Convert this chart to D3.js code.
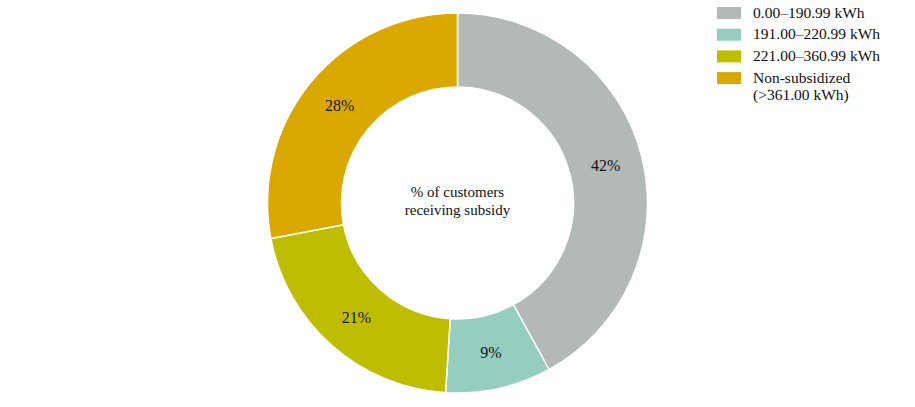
<!DOCTYPE html>
<html>
<head>
<meta charset="utf-8">
<script src="https://cdn.jsdelivr.net/npm/d3@7"></script>
<style>
  body { margin: 0; background: #fff; }
  text { font-family: "Liberation Serif", serif; fill: #111; }
</style>
</head>
<body>
<script>
var width = 915,
    height = 407;

// data
var categories = ["0.00–190.99 kWh", "191.00–220.99 kWh", "221.00–360.99 kWh", "Non-subsidized (>361.00 kWh)"];
var shares = [42, 9, 21, 28];
var colors = ["#b2b9b7", "#95cebf", "#bfbd00", "#dba800"];
var centerLabel = ["% of customers", "receiving subsidy"];

var svg = d3.select("body")
    .append("svg")
    .attr("width", width)
    .attr("height", height);

var cx = 457.5, cy = 203,
    outerR = 190, innerR = 116;

var g = svg.append("g")
    .attr("transform", "translate(" + cx + "," + cy + ")");

var pie = d3.pie().sort(null).value(d => d);
var arc = d3.arc().innerRadius(innerR).outerRadius(outerR);
var labelArc = d3.arc().innerRadius(153).outerRadius(153);

var color = d3.scaleOrdinal().domain(d3.range(shares.length)).range(colors);

var arcs = pie(shares);

g.selectAll("path")
    .data(arcs)
    .enter()
    .append("path")
    .attr("d", arc)
    .attr("fill", (d, i) => color(i))
    .attr("stroke", "#fff")
    .attr("stroke-width", 1.5);

g.selectAll(".label")
    .data(arcs)
    .enter()
    .append("text")
    .attr("class", "label")
    .attr("transform", d => "translate(" + labelArc.centroid(d) + ")")
    .attr("text-anchor", "middle")
    .attr("dy", "0.35em")
    .style("font-size", "16px")
    .text(d => d.data + "%");

g.append("text")
    .attr("text-anchor", "middle")
    .style("font-size", "15px")
    .selectAll("tspan")
    .data(centerLabel)
    .enter()
    .append("tspan")
    .attr("x", 0)
    .attr("y", (d, i) => -6 + i * 18)
    .text(d => d);

// legend
var legend = svg.append("g")
    .attr("transform", "translate(717, 7)");

var rows = legend.selectAll("g")
    .data(categories)
    .enter()
    .append("g")
    .attr("transform", (d, i) => "translate(0," + (i * 21.7) + ")");

rows.append("rect")
    .attr("width", 24)
    .attr("height", 12)
    .attr("fill", (d, i) => color(i));

rows.append("text")
    .attr("x", 36)
    .attr("y", 10.5)
    .style("font-size", "15.5px")
    .each(function (d) {
        var parts = d.indexOf(" (") > 0 ? [d.slice(0, d.indexOf(" (")), d.slice(d.indexOf(" (") + 1)] : [d];
        d3.select(this).selectAll("tspan")
            .data(parts)
            .enter()
            .append("tspan")
            .attr("x", 36)
            .attr("dy", (p, j) => j === 0 ? 0 : 17)
            .text(p => p);
    });
</script>
</body>
</html>
